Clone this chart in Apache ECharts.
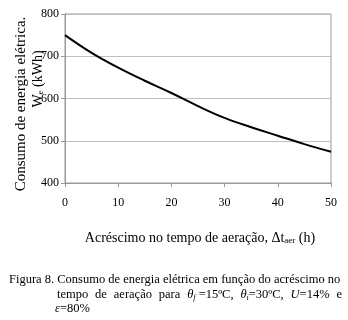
<!DOCTYPE html>
<html><head><meta charset="utf-8">
<script src="https://cdn.jsdelivr.net/npm/echarts@6/dist/echarts.min.js"></script>
<style>html,body{margin:0;padding:0;background:#fff}#c{width:348px;height:320px}</style>
</head><body><div id="c"></div>
<script>
const xValues = [0, 5, 10, 15, 20, 25, 30, 35, 40, 45, 50];
const energy = [750, 708, 673, 642, 613, 582, 554, 532, 512, 492, 474];
const xTicks = [0, 10, 20, 30, 40, 50];
const yTicks = [400, 500, 600, 700, 800];

const F = '"Liberation Serif", "Times New Roman", serif';
const FS = 12.5;
const rich = {
  n: {fontFamily: F, fontSize: FS},
  i: {fontFamily: F, fontSize: FS, fontStyle: 'italic'},
  s: {fontFamily: F, fontSize: 8, fontStyle: 'italic', padding: [5, 0, 0, 0]}
};
// caption line 2 words: arrays of [style, text] segments
const line2 = [
  [['n', 'tempo']], [['n', 'de']], [['n', 'aeração']], [['n', 'para']],
  [['i', 'θ'], ['s', 'f'], ['n', ' =15ºC,']],
  [['i', 'θ'], ['s', 'i'], ['n', '=30ºC,']],
  [['i', 'U'], ['n', '=14%']],
  [['n', 'e']]
];
const ctx = document.createElement('canvas').getContext('2d');
function segW(st, t) {
  const r = rich[st];
  ctx.font = (r.fontStyle === 'italic' ? 'italic ' : '') + r.fontSize + 'px ' + F;
  return ctx.measureText(t).width;
}
const L2Y = 295, L2X0 = 57, L2X1 = 342;
const widths = line2.map(w => w.reduce((a, s) => a + segW(s[0], s[1]), 0));
const totalW = widths.reduce((a, b) => a + b, 0);
const gap = (L2X1 - L2X0 - totalW) / (line2.length - 1);
const line2Graphics = [];
let cx = L2X0;
line2.forEach((w, k) => {
  line2Graphics.push({type: 'text', x: cx, y: L2Y,
    style: {text: w.map(s => '{' + s[0] + '|' + s[1] + '}').join(''), fill: '#000', align: 'left', verticalAlign: 'middle', rich: rich}});
  cx += widths[k] + gap;
});

const chart = echarts.init(document.getElementById('c'), null, {renderer: 'canvas'});
chart.setOption({
  animation: false,
  grid: {left: 65, right: 17, top: 14, bottom: 137, show: true, borderColor: '#999', borderWidth: 1},
  xAxis: {
    type: 'value', min: xTicks[0], max: xTicks[xTicks.length - 1], interval: 10,
    axisLine: {lineStyle: {color: '#999', width: 1}},
    axisTick: {show: true, length: 4, lineStyle: {color: '#999'}},
    splitLine: {show: false},
    axisLabel: {margin: 14, color: '#000', fontFamily: F, fontSize: 12}
  },
  yAxis: {
    type: 'value', min: yTicks[0], max: yTicks[yTicks.length - 1], interval: 100,
    axisLine: {show: true, lineStyle: {color: '#999', width: 1}},
    axisTick: {show: true, length: 4, lineStyle: {color: '#999'}},
    splitLine: {show: true, lineStyle: {color: '#c0c0c0', width: 1}},
    axisLabel: {margin: 6, color: '#000', fontFamily: F, fontSize: 12}
  },
  series: [{
    type: 'line', data: xValues.map((x, i) => [x, energy[i]]),
    smooth: 0.4, symbol: 'none', lineStyle: {color: '#000', width: 2}
  }],
  graphic: [
    {type: 'text', x: 21, y: 104, rotation: Math.PI / 2,
     style: {text: 'Consumo de energia elétrica.', font: '15px ' + F, fill: '#000', align: 'center', verticalAlign: 'middle'}},
    {type: 'text', x: 38, y: 79, rotation: Math.PI / 2,
     style: {text: '{n|W}{s|e}{n| (kWh)}', fill: '#000', align: 'center', verticalAlign: 'middle',
       rich: {n: {fontFamily: F, fontSize: 14}, s: {fontFamily: F, fontSize: 9, padding: [5, 0, 0, 0]}}}},
    {type: 'text', x: 200, y: 238,
     style: {text: '{n|Acréscimo no tempo de aeração, Δt}{s|aer}{n| (h)}', fill: '#000', align: 'center', verticalAlign: 'middle',
       rich: {n: {fontFamily: F, fontSize: 14}, s: {fontFamily: F, fontSize: 9, padding: [6, 0, 0, 0]}}}},
    {type: 'text', x: 9, y: 280,
     style: {text: 'Figura 8. Consumo de energia elétrica em função do acréscimo no', font: FS + 'px ' + F, fill: '#000', align: 'left', verticalAlign: 'middle'}},
    ...line2Graphics,
    {type: 'text', x: 55, y: 309,
     style: {text: '{i|ε}{n|=80%}', fill: '#000', align: 'left', verticalAlign: 'middle', rich: rich}}
  ]
});
</script></body></html>
